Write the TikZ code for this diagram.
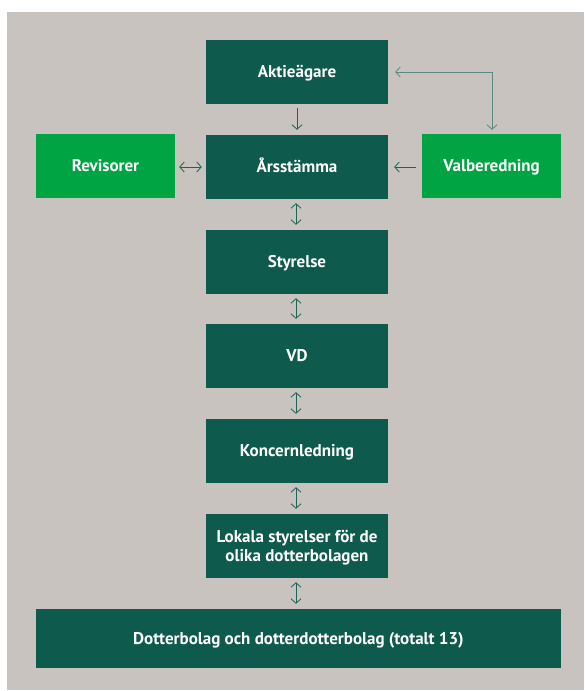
\documentclass[tikz,border=0pt]{standalone}
\usepackage{fontspec}
\setmainfont{PT Sans}
\usetikzlibrary{arrows.meta}
\definecolor{bg}{HTML}{C8C3BF}
\definecolor{dk}{HTML}{0E5A4C}
\definecolor{lt}{HTML}{00A443}
\definecolor{ar}{HTML}{1E6456}
\definecolor{arl}{HTML}{5B8A80}
\begin{document}
\begin{tikzpicture}[x=1pt,y=-1pt,
  box/.style={fill=dk, text=white, font=\bfseries\fontsize{17}{18.5}\selectfont,
    minimum width=182pt, minimum height=64pt, inner sep=0pt, align=center,
    text height=11.9pt, text depth=0pt},
  gbox/.style={box, fill=lt, minimum width=139pt},
  tip/.tip={Straight Barb[length=4.5pt,width=10pt]},
  one/.style={draw=ar, line width=0.8pt, -tip},
  two/.style={draw=ar, line width=0.8pt, tip-tip},
  twol/.style={draw=arl, line width=0.8pt, tip-tip}]
\useasboundingbox (0,0) rectangle (584,691);
\fill[white] (0,0) rectangle (584,691);
\fill[bg] (7,12) rectangle (583.5,690);
\node[box] (akt) at (297,72) {Aktieägare};
\node[box] (ars) at (297,167) {Årsstämma};
\node[gbox] (rev) at (105.5,166) {Revisorer};
\node[gbox] (val) at (491.5,166) {Valberedning};
\node[box] (sty) at (297,262) {Styrelse};
\node[box] (vd) at (297,356) {VD};
\node[box] (kon) at (297,451) {Koncernledning};
\node[box, text height=30.4pt] (lok) at (297,546) {Lokala styrelser för de\\olika dotterbolagen};
\node[box, minimum width=525pt, minimum height=59pt] (dot) at (298.5,638.5) {Dotterbolag och dotterdotterbolag (totalt 13)};
\coordinate (corner) at (492,72);
\draw[one, shorten <=4pt, shorten >=5pt] (akt.south) -- (ars.north);
\draw[two, shorten <=4pt, shorten >=4pt] (rev.east |- ars.east) -- (ars.east -| ars.west);
\draw[one, shorten <=6pt, shorten >=6pt] (val.west |- ars.east) -- (ars.east);
\draw[twol, shorten <=4pt, shorten >=7pt] (val.north -| corner) -- (corner) -- (akt.east);
\draw[two, shorten <=4pt, shorten >=5pt] ([xshift=-1pt]ars.south) -- ([xshift=-1pt]sty.north);
\draw[two, shorten <=4pt, shorten >=5pt] ([xshift=-1pt]sty.south) -- ([xshift=-1pt]vd.north);
\draw[two, shorten <=4pt, shorten >=5pt] ([xshift=-1pt]vd.south) -- ([xshift=-1pt]kon.north);
\draw[two, shorten <=4pt, shorten >=5pt] ([xshift=-1pt]kon.south) -- ([xshift=-1pt]lok.north);
\draw[two, shorten <=4pt, shorten >=5pt] ([xshift=-1pt]lok.south) -- ([xshift=-1pt]lok.south |- dot.north);
\end{tikzpicture}
\end{document}
